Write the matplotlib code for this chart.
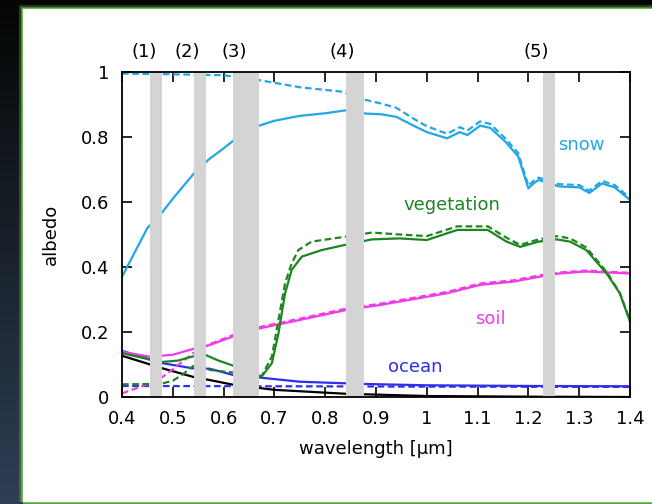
import numpy as np
import matplotlib
matplotlib.use('Agg')
import matplotlib.pyplot as plt
from matplotlib.patches import Rectangle

plt.rcParams['font.family'] = ['DejaVu Sans']

# snow
snow_wl = [0.40, 0.45, 0.48, 0.50, 0.54, 0.57, 0.60, 0.62, 0.67, 0.70, 0.75, 0.80, 0.84, 0.88, 0.91,
           0.94, 0.97, 1.00, 1.04, 1.065, 1.08, 1.105, 1.125, 1.155, 1.18, 1.20, 1.21, 1.22, 1.26,
           1.30, 1.32, 1.345, 1.37, 1.40]
snow_solid = [0.37, 0.52, 0.57, 0.61, 0.685, 0.73, 0.765, 0.79, 0.835, 0.85, 0.865, 0.873, 0.882, 0.872, 0.870,
              0.862, 0.838, 0.815, 0.796, 0.815, 0.806, 0.835, 0.828, 0.785, 0.74, 0.642, 0.657, 0.668, 0.648,
              0.645, 0.628, 0.657, 0.645, 0.606]
snow_dash_wl = [0.40, 0.50, 0.60, 0.67, 0.75, 0.83, 0.88, 0.91, 0.94, 0.97, 1.00, 1.04, 1.065, 1.08, 1.105,
                1.125, 1.155, 1.18, 1.20, 1.21, 1.22, 1.26, 1.30, 1.32, 1.345, 1.37, 1.40]
snow_dash = [0.995, 0.993, 0.99, 0.975, 0.953, 0.94, 0.914, 0.903, 0.89, 0.86, 0.833, 0.81, 0.83, 0.82, 0.848,
             0.84, 0.795, 0.75, 0.65, 0.665, 0.675, 0.655, 0.652, 0.635, 0.665, 0.652, 0.612]

# vegetation
veg_wl = [0.40, 0.455, 0.48, 0.51, 0.54, 0.565, 0.59, 0.616, 0.67, 0.675, 0.695, 0.708, 0.721, 0.734, 0.754,
          0.793, 0.839, 0.892, 0.947, 1.0, 1.06, 1.12, 1.157, 1.184, 1.22, 1.256, 1.282, 1.314, 1.354, 1.38, 1.40]
veg_solid = [0.135, 0.115, 0.108, 0.112, 0.125, 0.129, 0.112, 0.098, 0.065, 0.063, 0.104, 0.196, 0.319, 0.391,
             0.432, 0.452, 0.468, 0.485, 0.488, 0.483, 0.514, 0.514, 0.478, 0.462, 0.478, 0.485, 0.478, 0.452,
             0.38, 0.319, 0.232]
veg_dash_wl = [0.40, 0.455, 0.48, 0.50, 0.52, 0.54, 0.565, 0.59, 0.616, 0.67, 0.675, 0.695, 0.708, 0.721,
               0.734, 0.747, 0.773, 0.839, 0.892, 0.947, 1.0, 1.06, 1.12, 1.157, 1.184, 1.22, 1.256, 1.282,
               1.314, 1.354, 1.38, 1.40]
veg_dash = [0.039, 0.04, 0.042, 0.05, 0.07, 0.095, 0.085, 0.08, 0.076, 0.066, 0.065, 0.124, 0.237, 0.35,
            0.411, 0.452, 0.478, 0.493, 0.506, 0.5, 0.495, 0.525, 0.525, 0.49, 0.468, 0.485, 0.495, 0.488,
            0.46, 0.385, 0.32, 0.235]

# soil
soil_wl = [0.40, 0.455, 0.50, 0.54, 0.573, 0.618, 0.67, 0.75, 0.842, 0.908, 1.039, 1.105, 1.17, 1.222,
           1.26, 1.314, 1.40]
soil_solid = [0.139, 0.124, 0.13, 0.148, 0.16, 0.186, 0.211, 0.237, 0.268, 0.283, 0.319, 0.345, 0.355, 0.37,
              0.38, 0.386, 0.38]
soil_dash_wl = [0.40, 0.455, 0.48, 0.50, 0.54, 0.573, 0.618, 0.67, 0.75, 0.842, 0.908, 1.039, 1.105, 1.17,
                1.222, 1.26, 1.314, 1.40]
soil_dash = [0.011, 0.042, 0.062, 0.085, 0.135, 0.163, 0.19, 0.215, 0.241, 0.272, 0.287, 0.323, 0.349,
             0.359, 0.374, 0.383, 0.389, 0.382]

# ocean
ocean_wl = [0.40, 0.48, 0.54, 0.573, 0.618, 0.67, 0.75, 0.88, 1.0, 1.2, 1.4]
ocean_solid = [0.142, 0.104, 0.088, 0.087, 0.068, 0.06, 0.047, 0.04, 0.036, 0.034, 0.033]
ocean_dash_wl = [0.40, 0.7, 1.0, 1.4]
ocean_dash = [0.034, 0.033, 0.032, 0.031]

# black curve
black_wl = [0.40, 0.48, 0.54, 0.573, 0.618, 0.70, 0.84, 1.0, 1.2, 1.4]
black_solid = [0.127, 0.088, 0.062, 0.052, 0.038, 0.022, 0.01, 0.003, 0.001, 0.0]

# grey bands and their labels
bands = [(0.455, 0.479), (0.542, 0.565), (0.618, 0.670), (0.841, 0.877), (1.229, 1.252)]
band_labels = ['(1)', '(2)', '(3)', '(4)', '(5)']
band_label_x = [0.443, 0.528, 0.62, 0.833, 1.216]

c_snow = '#22a7e6'
c_veg = '#1e8520'
c_soil = '#f03ce6'
c_ocean = '#2f2fea'
fs = 13

fig = plt.figure(figsize=(6.52, 5.04), dpi=100)
fig.patch.set_facecolor('#050805')

# dark background with slight blue gradient at lower left
bg = fig.add_axes([0, 0, 1, 1], zorder=-10)
grad = np.linspace(0, 1, 256)[:, None] * np.ones((1, 2))
bg.imshow(grad, cmap=matplotlib.colors.LinearSegmentedColormap.from_list('bgc', ['#040604', '#2e3e54']),
          aspect='auto', extent=[0, 1, 0, 1], origin='upper')
bg.set_xlim(0, 1)
bg.set_ylim(0, 1)
bg.axis('off')

# white panel with greenish glow
for lw, a in [(6, 0.25), (3, 0.5), (1.2, 0.9)]:
    fig.patches.append(Rectangle((23 / 652, 2 / 504), 640 / 652, 493 / 504, transform=fig.transFigure,
                                 facecolor='none', edgecolor='#7fcf5a', lw=lw, alpha=a, zorder=-5))
fig.patches.append(Rectangle((23 / 652, 2 / 504), 640 / 652, 493 / 504, transform=fig.transFigure,
                             facecolor='white', edgecolor='none', zorder=-4))

ax = fig.add_axes([122 / 652, 1 - 397 / 504, 508 / 652, 325 / 504])

lw = 1.6
ds = (0, (3, 1.6))
ax.plot(black_wl, black_solid, color='black', lw=lw, zorder=2)
ax.plot(ocean_wl, ocean_solid, color=c_ocean, lw=lw, zorder=2)
ax.plot(ocean_dash_wl, ocean_dash, color=c_ocean, lw=lw, ls=ds, zorder=2)
ax.plot(soil_wl, soil_solid, color=c_soil, lw=lw, zorder=2)
ax.plot(soil_dash_wl, soil_dash, color=c_soil, lw=lw, ls=ds, zorder=2)
ax.plot(veg_wl, veg_solid, color=c_veg, lw=lw, zorder=2)
ax.plot(veg_dash_wl, veg_dash, color=c_veg, lw=lw, ls=ds, zorder=2)
ax.plot(snow_wl, snow_solid, color=c_snow, lw=lw, zorder=2)
ax.plot(snow_dash_wl, snow_dash, color=c_snow, lw=lw, ls=ds, zorder=2)

for (b0, b1), lab, lx in zip(bands, band_labels, band_label_x):
    ax.axvspan(b0, b1, color='#d4d4d4', lw=0, zorder=3)
    ax.text(lx, 1.06, lab, ha='center', va='center', fontsize=fs, transform=ax.get_xaxis_transform())

ax.text(1.305, 0.775, 'snow', color=c_snow, fontsize=fs, ha='center', va='center')
ax.text(1.05, 0.59, 'vegetation', color=c_veg, fontsize=fs, ha='center', va='center')
ax.text(1.125, 0.24, 'soil', color=c_soil, fontsize=fs, ha='center', va='center')
ax.text(0.977, 0.092, 'ocean', color=c_ocean, fontsize=fs, ha='center', va='center')

ax.set_xlim(0.4, 1.4)
ax.set_ylim(0, 1)
ax.set_xticks(np.arange(0.4, 1.41, 0.1))
ax.set_xticklabels(['0.4', '0.5', '0.6', '0.7', '0.8', '0.9', '1', '1.1', '1.2', '1.3', '1.4'])
ax.set_yticks([0, 0.2, 0.4, 0.6, 0.8, 1.0])
ax.set_yticklabels(['0', '0.2', '0.4', '0.6', '0.8', '1'])
ax.tick_params(direction='in', top=True, right=True, length=7, width=1.2, labelsize=fs, pad=9)
for s in ax.spines.values():
    s.set_linewidth(1.3)
    s.set_zorder(5)
ax.set_xlabel('wavelength [\u03bcm]', fontsize=fs, labelpad=9)
ax.set_ylabel('albedo', fontsize=fs, labelpad=15)

fig.savefig('out.png', dpi=100)
